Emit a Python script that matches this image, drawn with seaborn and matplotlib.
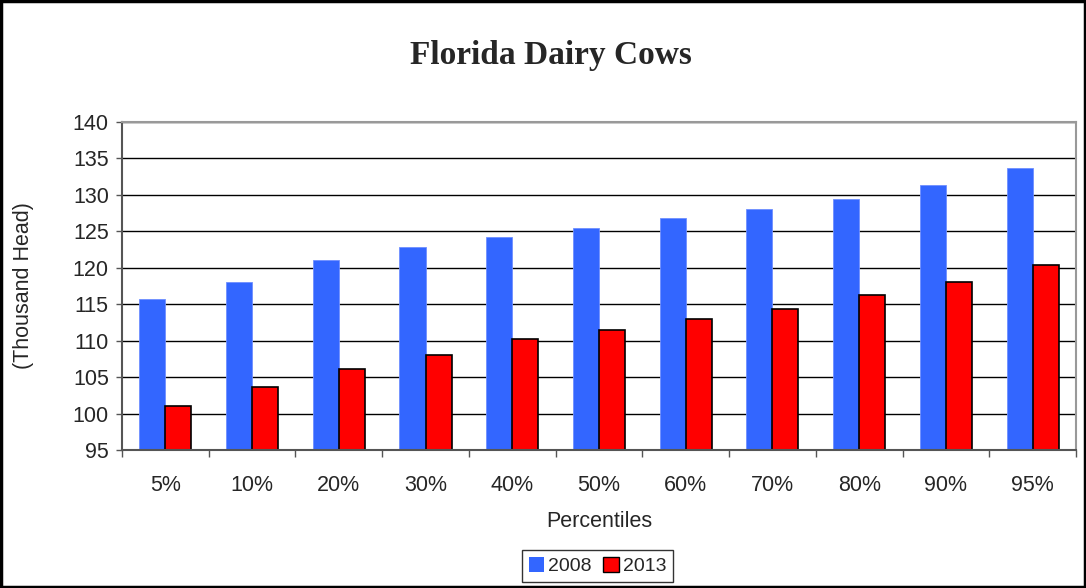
import seaborn as sns
import pandas as pd
import numpy as np
import matplotlib.pyplot as plt
from matplotlib.patches import Rectangle

percentiles = ['5%', '10%', '20%', '30%', '40%', '50%', '60%', '70%', '80%', '90%', '95%']
cows_2008 = [115.7, 118.0, 121.0, 122.9, 124.2, 125.4, 126.8, 128.1, 129.4, 131.3, 133.7]
cows_2013 = [101.1, 103.7, 106.1, 108.1, 110.2, 111.5, 113.0, 114.3, 116.2, 118.0, 120.4]
years = ['2008', '2013']
y_ticks = [95, 100, 105, 110, 115, 120, 125, 130, 135, 140]

df = pd.DataFrame({
  'Percentiles': percentiles * 2,
  'Head': cows_2008 + cows_2013,
  'Year': [years[0]] * len(percentiles) + [years[1]] * len(percentiles),
})

sns.set_style('white')
plt.rcParams['font.family'] = ['Liberation Sans', 'DejaVu Sans']

fig = plt.figure(figsize=(10.86, 5.88), dpi=100)
ax = fig.add_axes([0.1123, 0.2347, 0.8785, 0.5578])

palette = {'2008': '#3366FF', '2013': '#FF0000'}
sns.barplot(data=df, x='Percentiles', y='Head', hue='Year', palette=palette,
            width=0.6, order=percentiles, hue_order=years, ax=ax, legend=False,
            saturation=1)

# only the 2013 bars get a black outline
for bar in ax.containers[0]:
  bar.set_edgecolor('#6f8fff')
  bar.set_linewidth(0.6)
for bar in ax.containers[1]:
  bar.set_edgecolor('black')
  bar.set_linewidth(1.2)

ax.set_ylim(95, 140)
ax.set_yticks(y_ticks)
ax.set_xlim(-0.5, len(percentiles) - 0.5)
ax.yaxis.grid(True, color='black', linewidth=1)
ax.set_axisbelow(True)

ax.tick_params(axis='y', which='major', length=4.5, width=1, color='#555555', direction='out',
               labelsize=15.5, pad=5, left=True)
ax.tick_params(axis='x', which='major', length=0, labelsize=15.5, pad=18)
ax.set_xticks(np.arange(-0.5, len(percentiles)), minor=True)
ax.tick_params(axis='x', which='minor', length=5, width=1, color='#555555', direction='out',
               bottom=True)

for side in ['left', 'bottom']:
  ax.spines[side].set_color('#555555')
  ax.spines[side].set_linewidth(1.5)
for side in ['top', 'right']:
  ax.spines[side].set_visible(True)
  ax.spines[side].set_color('#999999')
  ax.spines[side].set_linewidth(1.5)

ax.set_xlabel('Percentiles', fontsize=15.5)
ax.xaxis.set_label_coords(0.5, -0.185)
ax.set_ylabel('(Thousand Head)', fontsize=15.5)
ax.yaxis.set_label_coords(-0.092, 0.5)

fig.text(0.507, 0.906, 'Florida Dairy Cows', ha='center', va='center', fontsize=24,
         fontweight='bold', family=['Liberation Serif', 'DejaVu Serif'])

handles = [Rectangle((0, 0), 1, 1, facecolor='#3366FF', edgecolor='none'),
           Rectangle((0, 0), 1, 1, facecolor='#FF0000', edgecolor='black')]
leg = fig.legend(handles, years, loc='center', bbox_to_anchor=(0.55, 0.037), ncol=2,
                 fontsize=14, frameon=True, fancybox=False, handlelength=0.8,
                 handleheight=0.8, handletextpad=0.2, columnspacing=0.6,
                 borderpad=0.35, borderaxespad=0)
leg.get_frame().set_edgecolor('black')
leg.get_frame().set_linewidth(1)

fig.patches.append(Rectangle((0.001, 0.001), 0.998, 0.997, transform=fig.transFigure,
                             fill=False, edgecolor='black', linewidth=2.5))

plt.savefig('out.png', dpi=100)
plt.close()
